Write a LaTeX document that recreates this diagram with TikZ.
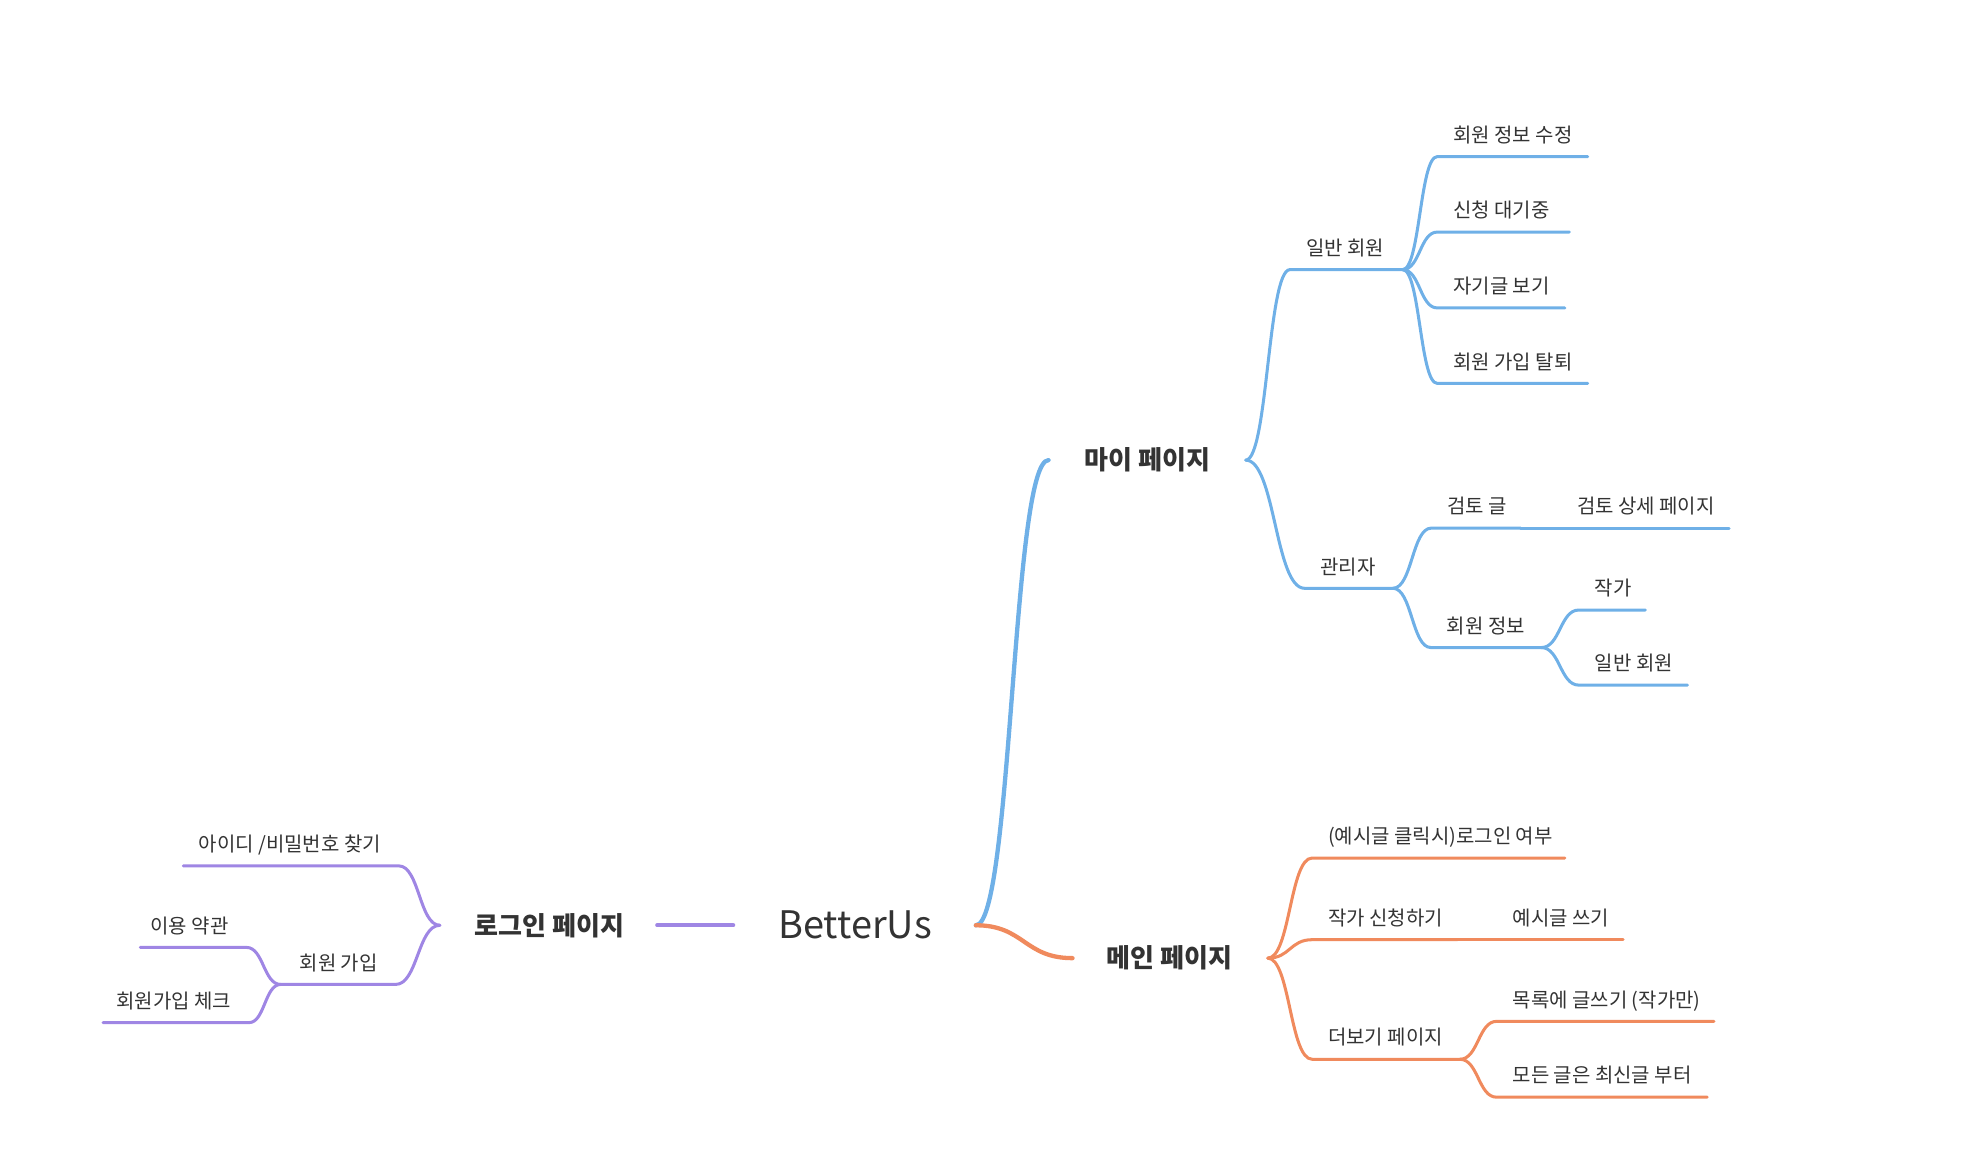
\documentclass[tikz,border=0pt]{standalone}
\usepackage{fontspec}
\setmainfont{Noto Sans CJK KR}
\usetikzlibrary{calc}
\definecolor{mmblue}{HTML}{6FB0E7}
\definecolor{mmorange}{HTML}{F08A5D}
\definecolor{mmpurple}{HTML}{9F86E4}
\definecolor{mmtext}{HTML}{333333}
\newcommand\mmR[5]{%
  \coordinate (#1L) at (#2,#4);
  \coordinate (#1R) at (#3,#4);
  \node[lbl,anchor=base west] (#1) at ({#2+12.5},{#4-11.3}) {#5};}
\newcommand\mmLft[5]{%
  \coordinate (#1L) at (#2,#4);
  \coordinate (#1R) at (#3,#4);
  \node[lbl,anchor=base east] (#1) at ({#3-14},{#4-11.3}) {#5};}
\tikzset{
  lbl/.style={inner sep=0pt, text=mmtext, font=\fontsize{15.8pt}{18pt}\selectfont},
  topic/.style={inner sep=0pt, text=mmtext, font=\fontsize{20.6pt}{24pt}\selectfont\bfseries},
  rootlbl/.style={inner sep=0pt, text=mmtext, font=\fontsize{30pt}{34pt}\selectfont},
  sb/.style={to path={let \p1=(\tikztostart), \p2=(\tikztotarget) in
     .. controls ({(\x1+\x2)/2},\y1) and ({(\x1+\x2)/2},\y2) .. (\tikztotarget)}},
  branch/.style={line width=2.4pt, line cap=round, line join=round},
  mainline/.style={line width=3.4pt, line cap=round, line join=round},
}
\begin{document}
\begin{tikzpicture}[x=1pt,y=-1pt]
\useasboundingbox (0,0) rectangle (1568,926);

% root and topics
\node[rootlbl,anchor=base] (root) at (676.5,742.5) {BetterUs};
\coordinate (rootR) at (772,732);
\coordinate (rootL) at (580,732);
\node[topic,anchor=base] (login) at (434.6,739.7) {로그인 페이지};
\coordinate (loginR) at (520,732);
\coordinate (loginL) at (348,732);
\node[topic,anchor=base] (my) at (907.5,371.7) {마이 페이지};
\coordinate (myL) at (829.5,364);
\coordinate (myR) at (985.5,364);
\node[topic,anchor=base] (main) at (925,765.7) {메인 페이지};
\coordinate (mainL) at (848.5,758);
\coordinate (mainR) at (1003,758);

\draw[mainline,mmpurple] (loginR) -- (rootL);
\draw[mainline,mmblue] (rootR) to[sb] (myL);
\draw[mainline,mmorange] (rootR) to[sb] (mainL);

% my page (blue)
\mmR{ga}{1020.5}{1109.7}{213.3}{일반 회원}
\mmR{gaa}{1137}{1256}{123.9}{회원 정보 수정}
\mmR{gab}{1137}{1241.5}{183.6}{신청 대기중}
\mmR{gac}{1137}{1238}{243.6}{자기글 보기}
\mmR{gad}{1137}{1256}{303.3}{회원 가입 탈퇴}
\mmR{gb}{1032}{1102}{465.4}{관리자}
\mmR{gba}{1132.3}{1203}{417.8}{검토 글}
\mmR{gbaa}{1235}{1368}{417.8}{검토 상세 페이지}
\mmR{gbb}{1132}{1219.4}{512.3}{회원 정보}
\mmR{gbba}{1249}{1301.6}{482.6}{작가}
\mmR{gbbb}{1249}{1335}{542}{일반 회원}
\begin{scope}[branch,mmblue]
\draw (myR) to[sb] (gaL) -- (gaR);
\draw (gaR) to[sb] (gaaL) -- (gaaR);
\draw (gaR) to[sb] (gabL) -- (gabR);
\draw (gaR) to[sb] (gacL) -- (gacR);
\draw (gaR) to[sb] (gadL) -- (gadR);
\draw (myR) to[sb] (gbL) -- (gbR);
\draw (gbR) to[sb] (gbaL) -- (gbaR);
\draw (gbaR) -- (gbaaL) -- (gbaaR);
\draw (gbR) to[sb] (gbbL) -- (gbbR);
\draw (gbbR) to[sb] (gbbaL) -- (gbbaR);
\draw (gbbR) to[sb] (gbbbL) -- (gbbbR);
\end{scope}

% main page (orange)
\mmR{ma}{1038}{1238}{678.8}{(예시글 클릭시)로그인 여부}
\mmR{mb}{1038}{1153}{743.4}{작가 신청하기}
\mmR{mba}{1184}{1284}{743.4}{예시글 쓰기}
\mmR{mc}{1038}{1155}{838}{더보기 페이지}
\mmR{mca}{1184}{1356}{808}{목록에 글쓰기 (작가만)}
\mmR{mcb}{1184}{1350.6}{868}{모든 글은 최신글 부터}
\begin{scope}[branch,mmorange]
\draw (mainR) to[sb] (maL) -- (maR);
\draw (mainR) to[sb] (mbL) -- (mbR);
\draw (mbR) -- (mbaL) -- (mbaR);
\draw (mainR) to[sb] (mcL) -- (mcR);
\draw (mcR) to[sb] (mcaL) -- (mcaR);
\draw (mcR) to[sb] (mcbL) -- (mcbR);
\end{scope}

% login page (purple)
\mmLft{pa}{145}{315.5}{685}{아이디 /비밀번호 찾기}
\mmLft{pb}{222}{313}{778.8}{회원 가입}
\mmLft{pba}{111}{195}{749.5}{이용 약관}
\mmLft{pbb}{81.5}{197}{809}{회원가입 체크}
\begin{scope}[branch,mmpurple]
\draw (loginL) to[sb] (paR) -- (paL);
\draw (loginL) to[sb] (pbR) -- (pbL);
\draw (pbL) to[sb] (pbaR) -- (pbaL);
\draw (pbL) to[sb] (pbbR) -- (pbbL);
\end{scope}
\end{tikzpicture}
\end{document}
